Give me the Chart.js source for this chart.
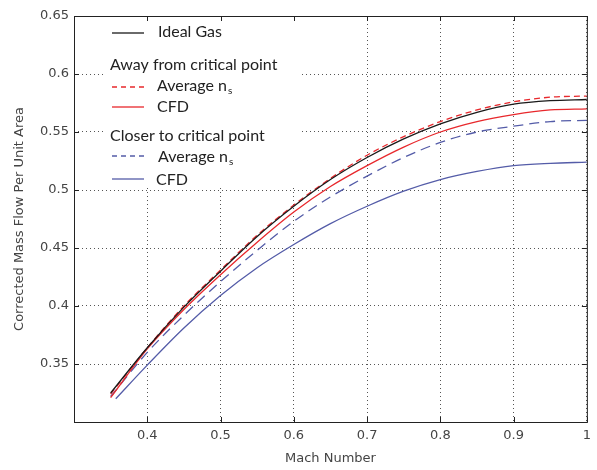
<!DOCTYPE html>
<html>

<head>
    <meta charset="UTF-8">
    <title>Corrected Mass Flow</title>
    <script src="https://cdn.jsdelivr.net/npm/chart.js"></script>
    <style>
        body {
            margin: 0;
            background: white;
        }
    </style>
</head>

<body>
    <canvas id="myChart" width="597" height="470"></canvas>
    <script>
        // values
        const mach = [0.35, 0.4, 0.45, 0.5, 0.55, 0.6, 0.65, 0.7, 0.75, 0.8, 0.85, 0.9, 0.95, 1.0];
        const machCloserCfd = [0.357, 0.4, 0.45, 0.5, 0.55, 0.6, 0.65, 0.7, 0.75, 0.8, 0.85, 0.9, 0.95, 1.0];

        const idealGas = [0.325, 0.364, 0.399, 0.430, 0.460, 0.486, 0.509, 0.528, 0.544, 0.557, 0.567, 0.574, 0.577, 0.578];
        const awayAvg = [0.324, 0.364, 0.400, 0.431, 0.461, 0.487, 0.510, 0.530, 0.546, 0.559, 0.569, 0.576, 0.580, 0.581];
        const awayCfd = [0.321, 0.363, 0.397, 0.427, 0.455, 0.481, 0.503, 0.521, 0.537, 0.550, 0.559, 0.565, 0.569, 0.570];
        const closerAvg = [0.322, 0.360, 0.392, 0.421, 0.448, 0.473, 0.494, 0.512, 0.528, 0.541, 0.550, 0.555, 0.559, 0.560];
        const closerCfd = [0.320, 0.349, 0.381, 0.409, 0.433, 0.453, 0.471, 0.486, 0.499, 0.509, 0.516, 0.521, 0.523, 0.524];

        const RED = 'rgb(232, 40, 44)';
        const BLUE = 'rgb(84, 92, 168)';
        const BLACK = '#1a1a1a';
        const AXIS_FONT = { family: 'DejaVu Sans', size: 13 };

        function pts(xs, ys) {
            return xs.map(function (x, i) { return { x: x, y: ys[i] }; });
        }

        function fmt(v) {
            return parseFloat(v.toFixed(2)).toString();
        }

        // MATLAB-style box, inward ticks and grouped legend
        const boxPlugin = {
            id: 'box',
            beforeDatasetsDraw(chart) {
                const c = chart.ctx;
                const a = chart.chartArea;
                c.save();
                // legend background
                c.fillStyle = 'white';
                c.fillRect(104, a.top + 2, 198, 170);

                c.fillStyle = '#222';
                c.font = '16px Lato';
                c.textBaseline = 'middle';

                function sample(y, color, dash) {
                    c.strokeStyle = color;
                    c.lineWidth = 1.3;
                    c.setLineDash(dash);
                    c.beginPath();
                    c.moveTo(112, y);
                    c.lineTo(144, y);
                    c.stroke();
                    c.setLineDash([]);
                }
                function avgLabel(x, y) {
                    c.font = '16px Lato';
                    c.fillText('Average n', x, y);
                    const w = c.measureText('Average n').width;
                    c.font = '10px Lato';
                    c.fillText('s', x + w + 1, y + 5);
                    c.font = '16px Lato';
                }

                sample(33, BLACK, []);
                c.fillText('Ideal Gas', 158, 32);
                c.fillText('Away from critical point', 110, 65);
                sample(87, RED, [5, 4]);
                avgLabel(157, 86);
                sample(107, RED, []);
                c.fillText('CFD', 157, 107);
                c.fillText('Closer to critical point', 110, 136);
                sample(156, BLUE, [5, 4]);
                avgLabel(158, 157);
                sample(179, BLUE, []);
                c.fillText('CFD', 156, 180);
                c.restore();
            },
            afterDraw(chart) {
                const c = chart.ctx;
                const a = chart.chartArea;
                const xs = chart.scales.x;
                const ys = chart.scales.y;
                c.save();
                c.strokeStyle = '#222';
                c.lineWidth = 1;
                c.strokeRect(a.left + 0.5, a.top + 0.5, a.right - a.left, a.bottom - a.top);
                c.beginPath();
                xs.ticks.forEach(function (t, i) {
                    const px = Math.round(xs.getPixelForTick(i)) + 0.5;
                    c.moveTo(px, a.bottom);
                    c.lineTo(px, a.bottom - 5);
                    c.moveTo(px, a.top);
                    c.lineTo(px, a.top + 5);
                });
                ys.ticks.forEach(function (t, i) {
                    const py = Math.round(ys.getPixelForTick(i)) + 0.5;
                    c.moveTo(a.left, py);
                    c.lineTo(a.left + 5, py);
                    c.moveTo(a.right, py);
                    c.lineTo(a.right - 5, py);
                });
                c.stroke();
                c.restore();
            }
        };

        const ctx = document.getElementById('myChart');
        const myChart = new Chart(ctx, {
            type: 'line',
            data: {
                datasets: [
                    { label: 'Ideal Gas', data: pts(mach, idealGas), borderColor: BLACK, borderWidth: 1.3 },
                    { label: 'Away Average ns', data: pts(mach, awayAvg), borderColor: RED, borderWidth: 1.3, borderDash: [6, 4] },
                    { label: 'Away CFD', data: pts(mach, awayCfd), borderColor: RED, borderWidth: 1.3 },
                    { label: 'Closer Average ns', data: pts(mach, closerAvg), borderColor: BLUE, borderWidth: 1.3, borderDash: [10, 6] },
                    { label: 'Closer CFD', data: pts(machCloserCfd, closerCfd), borderColor: BLUE, borderWidth: 1.3 }
                ]
            },
            options: {
                responsive: false,
                animation: false,
                layout: { padding: { top: 16, right: 5, left: 0, bottom: 4 } },
                elements: {
                    point: { radius: 0 },
                    line: { cubicInterpolationMode: 'monotone', fill: false }
                },
                plugins: {
                    legend: { display: false },
                    tooltip: { enabled: false }
                },
                scales: {
                    x: {
                        type: 'linear',
                        min: 0.3,
                        max: 1.0,
                        afterFit: function (s) { s.height = 44; },
                        ticks: {
                            stepSize: 0.1,
                            color: '#444',
                            font: AXIS_FONT,
                            padding: 6,
                            maxRotation: 0,
                            callback: function (v) { return v < 0.35 ? '' : fmt(v); }
                        },
                        grid: {
                            color: '#555',
                            lineWidth: 1,
                            drawTicks: false
                        },
                        border: { display: false, dash: [1, 3] },
                        title: {
                            display: true,
                            text: 'Mach Number',
                            color: '#444',
                            font: AXIS_FONT,
                            padding: { top: 0, bottom: 0 }
                        }
                    },
                    y: {
                        min: 0.3,
                        max: 0.65,
                        afterFit: function (s) { s.width = 74; },
                        ticks: {
                            stepSize: 0.05,
                            color: '#444',
                            font: AXIS_FONT,
                            padding: 5,
                            callback: function (v) { return v < 0.32 ? '' : fmt(v); }
                        },
                        grid: {
                            color: '#555',
                            lineWidth: 1,
                            drawTicks: false
                        },
                        border: { display: false, dash: [1, 3] },
                        title: {
                            display: true,
                            text: 'Corrected Mass Flow Per Unit Area',
                            color: '#444',
                            font: AXIS_FONT,
                            padding: { top: 12, bottom: 0 }
                        }
                    }
                }
            },
            plugins: [boxPlugin]
        });
    </script>
</body>

</html>
